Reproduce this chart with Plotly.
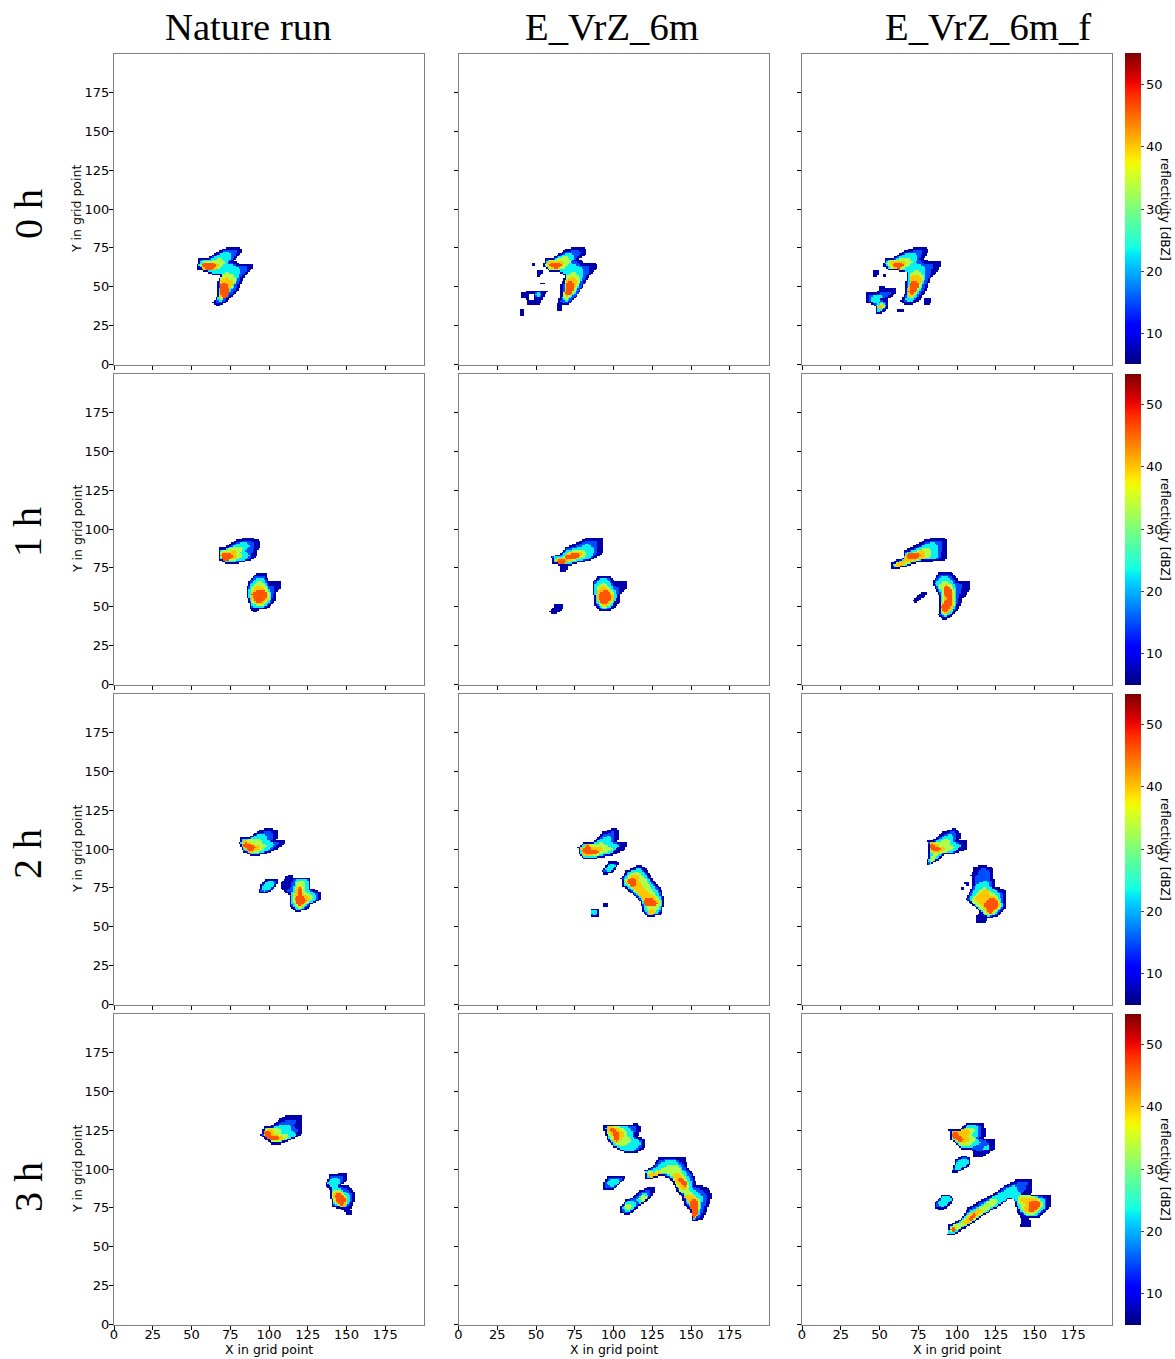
import numpy as np
import plotly.graph_objects as go

# Values are reflectivity contours: (dBZ level, [x, y, x, y, ...] in grid points).
# A later entry paints over an earlier one; level 0 is a gap with no echo.
column_titles = ["Nature run", "E_VrZ_6m", "E_VrZ_6m_f"]
row_titles = ["0 h", "1 h", "2 h", "3 h"]
grid_ticks = [0, 25, 50, 75, 100, 125, 150, 175]
colorbar_ticks = [10, 20, 30, 40, 50]

nature_0h = [
 (7,[53,64,54,68,61,69,65,72,69,74,75,76,81,75,82,73,80,70,77,67,80,65,89,65,89,62,84,57,80,49,75,43,70,39,65,37,63,40,66,45,66,53,68,58,63,58,57,60,53,61]),
 (15,[54,64,55,67,61,68,65,70,70,73,76,74,79,73,77,69,74,66,78,64,85,63,85,61,81,56,78,49,73,43,69,40,65,39,65,41,67,45,67,53,69,59,63,59,57,61]),
 (23,[55,64,56,66,62,67,66,69,71,72,74,71,73,67,70,65,76,63,80,61,78,55,74,48,70,43,67,41,67,45,69,53,70,58,63,60,57,62]),
 (33,[56,64,58,66,63,66,68,68,70,66,68,63,62,61,57,62]),
 (33,[69,57,72,59,76,57,77,54,73,48,70,43,67,42,68,46,69,52]),
 (40,[57,64,59,65,63,65,66,65,65,62,60,61,57,62]),
 (40,[69,54,72,56,75,53,73,48,70,44,68,43,69,47]),
 (46,[57,64,60,65,64,64,63,62,59,62]),
 (46,[69,51,71,52,73,48,71,43,69,45]),
]
vrz_0h = [
 (7,[54,65,55,68,61,69,68,74,76,76,81,75,82,71,77,68,80,66,88,65,89,62,84,57,80,51,76,45,71,39,66,38,66,35,63,35,63,39,65,45,65,51,68,57,65,59,58,60,54,63]),
 (15,[55,65,56,67,61,68,68,72,75,74,79,72,74,67,78,64,84,63,84,60,80,54,77,47,72,41,67,39,65,41,67,46,67,51,69,58,65,60,58,61,55,63]),
 (23,[56,64,57,67,62,67,68,70,73,71,72,67,70,65,75,63,79,61,78,55,73,45,68,41,67,43,69,50,69,58,64,61,58,62]),
 (33,[56,64,58,66,63,67,68,69,71,67,68,63,62,61,58,62]),
 (33,[69,56,73,59,77,56,76,52,72,45,68,42,68,46,69,52]),
 (40,[57,65,59,66,63,66,67,66,65,63,60,62]),
 (40,[70,54,73,56,75,53,72,47,69,44,69,48]),
 (46,[59,64,63,65,65,64,62,62]),
 (46,[70,52,72,53,73,49,71,45,69,46]),
 (7,[47,66,49,66,49,64,47,64]),
 (7,[50,60,53,61,54,59,52,57,50,57]),
 (7,[52,52,55,53,54,51]),
 (7,[40,46,45,48,57,48,55,45,52,39,44,39,43,42,40,43]),
 (0,[45,46,48,46,48,42,45,42]),
 (15,[49,46,53,47,53,44,49,43]),
 (23,[50,45,52,46,51,44]),
 (7,[39,36,42,36,42,32,39,32]),
]
vrzf_0h = [
 (7,[52,65,53,68,59,69,65,73,73,76,79,76,81,73,78,68,81,67,89,66,88,62,82,55,79,47,75,41,69,38,65,39,63,41,66,47,66,53,67,60,62,60,55,61,52,63]),
 (15,[53,65,54,67,59,68,65,71,73,74,77,73,75,68,78,65,84,64,82,58,78,49,74,43,69,40,65,41,67,47,67,53,68,60,62,61,55,62]),
 (23,[54,65,55,67,60,67,66,70,72,71,73,68,71,65,78,62,78,57,75,49,71,42,67,42,68,49,69,58,62,62,56,62]),
 (33,[55,65,57,67,62,67,67,68,70,66,66,63,62,61,57,62]),
 (33,[70,58,74,60,77,56,75,50,71,44,68,43,69,50]),
 (40,[57,65,59,66,64,66,66,65,63,62,59,62]),
 (40,[70,56,73,57,76,55,73,49,70,44,68,45,69,50]),
 (46,[59,64,62,65,64,64,62,62]),
 (46,[70,52,73,53,74,52,72,47,70,45,69,47]),
 (7,[45,60,48,61,49,58,47,56,45,57]),
 (7,[52,59,54,59,54,57,52,57]),
 (7,[78,42,82,43,83,40,80,38,78,39]),
 (7,[61,36,65,36,65,34,61,34]),
 (7,[41,46,48,47,49,50,52,51,53,49,60,50,59,45,55,42,55,36,51,33,47,33,46,38,41,40]),
 (15,[43,45,48,45,52,47,57,47,55,44,50,42,54,40,54,37,50,34,48,34,47,38,43,41]),
 (23,[44,44,48,44,52,44,49,41,45,41]),
 (23,[48,38,51,40,53,38,50,35,48,35]),
 (33,[49,37,51,39,52,37,50,36]),
 (40,[49,37,51,38,51,37,50,36]),
]
nature_1h = [
 (7,[67,88,72,89,78,93,86,95,93,93,94,89,92,86,92,83,88,80,80,78,71,78,67,80]),
 (15,[68,87,72,87,78,91,85,93,90,91,90,88,88,84,87,81,80,79,71,79,68,81]),
 (23,[69,86,73,87,78,89,84,91,86,89,82,86,86,83,84,81,78,80,71,80,68,82]),
 (33,[69,85,73,86,78,88,82,87,79,85,82,83,78,81,72,80,69,82]),
 (40,[70,84,75,85,79,86,77,84,78,82,74,81,70,81]),
 (46,[69,83,72,84,75,83,74,81,70,81]),
 (7,[86,66,91,72,97,72,99,66,107,67,107,63,104,59,103,53,98,49,93,48,90,46,87,49,85,56,85,63]),
 (15,[87,66,91,70,96,70,99,64,103,63,102,58,100,52,97,50,92,49,88,50,86,56,86,63]),
 (23,[88,64,91,68,95,68,98,62,100,57,98,52,93,50,89,51,87,56,87,61]),
 (33,[89,62,92,66,95,65,98,60,99,55,96,52,92,51,89,53,88,57]),
 (40,[89,59,91,63,94,63,96,60,98,58,97,54,94,52,91,53,89,55]),
 (46,[89,58,92,60,94,59,96,60,97,56,94,53,91,54,90,56]),
]
vrz_1h = [
 (7,[59,82,65,84,68,88,75,91,83,95,92,95,93,91,92,84,85,80,76,78,70,76,69,73,65,73,64,77,60,78]),
 (15,[60,82,65,83,69,87,75,89,83,93,89,92,89,86,85,81,76,79,70,77,64,78,61,79]),
 (23,[61,82,66,82,69,85,76,87,83,90,86,87,84,82,76,80,70,78,64,79,61,80]),
 (33,[62,81,67,81,70,84,76,86,81,86,81,83,75,81,69,79,63,79]),
 (40,[62,81,67,80,69,83,75,85,79,84,76,82,70,80,68,79,63,79]),
 (46,[63,80,66,80,68,79,64,79]),
 (46,[69,82,75,84,77,83,72,81]),
 (7,[86,66,90,70,97,70,100,66,108,67,108,62,104,58,103,52,98,48,90,47,87,51,86,58]),
 (15,[87,66,91,69,96,69,99,64,103,62,101,55,97,49,91,48,88,52,87,58]),
 (23,[88,64,91,68,95,67,98,62,101,57,98,51,92,49,89,53,88,58]),
 (33,[90,63,93,65,96,62,99,58,97,52,92,50,90,54,89,58]),
 (40,[90,60,93,63,96,60,99,56,96,52,92,51,90,54]),
 (46,[91,58,95,60,97,56,95,53,92,52,91,55]),
 (7,[58,47,61,51,67,52,67,49,63,46,59,45]),
]
vrzf_1h = [
 (7,[57,78,60,80,64,81,65,86,71,89,78,93,85,95,92,94,93,89,92,80,84,79,76,79,67,76,59,74,57,75]),
 (15,[58,77,64,80,66,85,72,87,79,91,85,93,90,92,89,85,88,81,76,80,67,77,59,75]),
 (23,[59,77,64,79,67,84,73,86,79,89,84,91,86,88,86,82,76,81,67,78,60,75]),
 (33,[60,77,65,78,68,83,74,85,79,87,82,86,82,83,75,81,66,78,60,76]),
 (40,[61,77,64,78,67,83,73,84,77,86,78,82,73,81,66,79,61,76]),
 (46,[67,84,72,83,75,84,74,82,68,81]),
 (7,[84,67,87,72,95,73,100,67,108,67,108,62,103,55,100,48,96,44,91,41,87,45,88,53,87,58,84,64]),
 (15,[85,67,88,70,94,71,98,66,103,64,100,55,98,48,95,45,91,43,88,45,89,53,88,58,85,64]),
 (23,[86,65,89,69,93,69,96,65,98,60,98,53,95,46,91,44,89,47,90,53,89,60]),
 (33,[88,63,91,66,94,65,97,60,97,52,94,47,91,45,89,49,91,55,91,60]),
 (40,[91,64,94,62,96,58,96,52,94,47,91,46,90,49,92,55,92,60]),
 (46,[92,63,94,62,95,56,95,52,93,48,91,47,90,50,92,53,94,55,92,58]),
 (7,[71,54,76,59,79,60,80,58,76,55,74,53,72,53]),
]
nature_2h = [
 (7,[80,104,81,107,87,108,93,112,99,114,105,112,104,106,110,106,109,103,101,98,94,96,88,95,83,98]),
 (15,[81,104,82,106,87,107,93,110,99,112,102,110,101,105,106,104,100,99,94,97,88,96,83,99]),
 (23,[81,104,83,106,88,106,94,109,97,109,97,105,102,103,99,100,93,98,88,97,84,100]),
 (33,[82,105,86,105,91,106,94,106,93,103,97,102,93,99,88,98,85,100]),
 (40,[82,105,85,104,90,102,93,101,90,99,87,98,84,101]),
 (46,[83,105,85,103,90,101,87,99,84,102]),
 (7,[93,74,94,77,97,80,101,81,104,81,105,79,103,75,99,72,95,71,93,72]),
 (15,[94,74,95,77,98,79,101,80,103,80,104,79,102,75,99,73,95,72,94,73]),
 (23,[95,75,97,77,101,79,102,78,100,75,97,74,96,74]),
 (7,[107,78,110,82,114,84,115,82,125,82,126,75,133,72,132,67,126,64,124,61,116,59,113,63,113,70,110,72,107,75]),
 (15,[113,75,115,81,124,81,125,74,131,71,130,67,125,65,123,62,117,60,114,64,114,72,111,73]),
 (23,[115,72,117,80,123,80,124,73,129,70,128,67,124,65,122,63,117,61,115,65]),
 (33,[116,71,118,79,122,78,122,72,127,69,124,66,121,63,118,62,116,66]),
 (40,[116,70,118,76,120,76,120,71,125,68,122,65,119,63,117,66]),
 (46,[117,68,119,71,119,75,120,70,123,67,120,65,118,65]),
]
vrz_2h = [
 (7,[76,101,81,105,87,105,92,111,101,114,103,112,102,105,108,104,106,99,99,96,89,94,81,93,77,97]),
 (15,[77,101,81,104,87,104,93,109,100,112,100,105,104,103,98,97,89,95,81,94,78,97]),
 (23,[78,100,81,103,86,103,93,106,97,108,96,104,102,102,97,98,89,96,81,95,79,97]),
 (33,[79,100,83,103,87,102,93,104,93,102,98,100,90,97,82,96,80,97]),
 (40,[79,100,83,103,85,101,92,100,89,98,82,96,80,97]),
 (46,[80,99,83,102,84,99,89,98,82,97]),
 (7,[92,86,96,92,101,93,103,91,99,85,93,83]),
 (15,[93,86,96,90,100,91,101,90,98,86,94,85]),
 (23,[95,87,97,89,100,90,98,87,96,86]),
 (7,[104,81,107,86,116,90,120,88,125,80,130,74,132,66,130,58,122,56,118,60,116,67,110,72,105,76]),
 (15,[105,81,108,85,116,88,119,86,123,80,129,73,131,66,129,59,122,57,119,60,117,67,111,73,106,77]),
 (23,[106,80,109,84,115,87,118,85,122,79,127,72,130,66,128,60,122,58,120,61,118,68,112,74,107,77]),
 (33,[107,79,110,83,115,85,117,83,120,79,125,71,129,66,127,61,123,59,121,63,118,69,112,75]),
 (40,[108,79,111,82,114,83,115,79,118,74,123,70,128,66,124,63,120,66,116,71,112,76]),
 (40,[123,61,125,61,125,59,123,59]),
 (46,[109,79,112,81,113,78,112,76]),
 (46,[119,68,123,68,127,65,123,64,120,65]),
 (7,[84,62,90,62,90,57,85,56]),
 (15,[85,61,89,61,89,58,85,57]),
 (23,[86,60,88,61,88,59,86,58]),
 (7,[93,65,94,66,96,65,96,63,94,62,93,63]),
]
vrzf_2h = [
 (7,[80,105,84,106,90,111,98,114,102,110,101,106,106,105,106,100,98,97,91,96,86,92,79,89,81,98]),
 (15,[81,104,85,105,91,109,97,112,99,109,98,105,103,103,98,98,91,97,85,93,80,89,82,98]),
 (23,[82,104,86,104,91,107,96,109,95,105,101,102,97,99,90,98,85,94,81,90,83,98]),
 (33,[82,104,86,103,91,105,94,106,93,103,97,101,93,99,87,97,84,94,82,91,85,97,83,99]),
 (40,[82,104,85,103,88,101,91,100,87,98,84,99,82,101]),
 (46,[83,103,85,101,88,100,85,99,83,101]),
 (7,[108,83,110,88,116,90,122,88,123,81,124,76,130,74,131,63,126,57,119,55,117,52,112,53,112,57,114,60,109,64,105,68,109,77,109,80]),
 (15,[111,82,115,88,120,86,121,80,122,75,128,72,129,63,125,58,119,56,115,61,110,65,106,68,110,76]),
 (23,[112,76,118,79,120,75,125,72,128,63,124,59,118,57,113,62,108,67,111,73]),
 (33,[110,68,114,72,117,75,119,73,123,71,127,64,124,60,119,58,114,63,110,66]),
 (40,[112,68,116,72,118,74,120,68,123,69,126,64,123,60,120,59,117,62,114,66]),
 (46,[118,65,121,68,124,67,125,63,122,60,120,60,118,63]),
 (7,[104,78,107,79,107,77,105,76]),
 (7,[102,76,104,76,104,74,102,74]),
]
nature_3h = [
 (7,[94,122,96,128,101,128,106,132,112,135,121,134,121,129,120,122,114,119,107,116,101,116,97,119]),
 (15,[95,122,97,127,102,127,107,130,113,132,117,131,115,128,118,125,116,121,108,118,102,117,98,120]),
 (23,[96,123,97,126,103,126,108,128,112,128,113,125,116,122,108,119,102,118,98,120]),
 (33,[96,123,98,126,104,126,107,124,105,122,112,121,107,119,101,118,98,120]),
 (40,[96,123,99,125,102,124,101,122,108,120,103,119,99,120]),
 (46,[97,123,100,124,100,121,105,120,101,119,98,121]),
 (7,[136,91,138,96,149,98,150,93,146,90,151,89,155,84,154,78,152,74,153,71,149,71,148,73,140,76,139,81,139,86,136,89]),
 (15,[137,91,139,95,147,96,147,92,144,89,150,87,153,83,152,78,148,75,141,77,140,81,140,87,138,90]),
 (23,[138,91,140,93,144,94,143,90,142,88,147,85,151,83,150,78,147,76,142,78,140,82,141,87]),
 (33,[141,86,146,85,149,81,149,78,146,76,142,79,141,82]),
 (40,[142,85,145,85,149,81,147,76,143,79,142,82]),
 (46,[143,84,146,83,148,80,146,77,144,79,143,82]),
]
vrz_3h = [
 (7,[93,125,93,128,101,129,110,128,114,130,117,126,115,121,120,119,120,114,115,111,106,111,99,114,95,119]),
 (15,[94,126,95,128,101,128,110,127,113,128,114,125,112,121,118,118,118,115,114,112,106,112,99,115,96,120]),
 (23,[94,126,95,127,101,127,109,126,111,124,110,121,116,117,113,113,106,113,100,116,97,120]),
 (33,[95,127,101,127,106,125,107,122,110,118,105,115,101,117,98,120,96,123]),
 (40,[96,127,99,126,103,125,105,122,103,118,100,118,99,122,96,125]),
 (46,[97,126,100,125,102,122,102,119,101,118,100,122,98,125]),
 (7,[93,91,95,95,103,96,107,95,104,91,98,86,93,87]),
 (15,[94,91,96,94,102,95,105,94,103,91,98,87,94,88]),
 (23,[96,91,98,93,102,93,103,92,100,90,97,89]),
 (7,[104,72,104,76,107,80,112,82,116,86,123,89,126,89,125,84,121,79,115,76,112,72,107,70]),
 (15,[105,73,105,76,108,79,112,81,117,85,123,87,123,84,120,80,115,77,111,73,107,71]),
 (23,[106,75,108,78,112,79,113,76,110,74,107,73]),
 (23,[115,80,118,83,121,84,120,80,118,79,116,78]),
 (33,[107,76,109,77,111,76,108,74]),
 (33,[117,81,119,83,120,81,118,79]),
 (7,[119,99,124,101,128,107,133,108,140,108,145,108,147,101,151,96,153,90,160,88,163,83,160,75,157,68,150,66,149,72,145,77,143,83,140,86,136,93,131,96,125,94,120,93]),
 (15,[120,98,124,100,129,105,134,107,140,106,144,104,146,100,150,95,151,89,157,86,160,82,157,74,155,69,151,67,150,73,146,78,144,84,141,87,137,94,131,97,125,95,121,95]),
 (23,[120,98,125,99,130,103,135,105,140,104,143,100,148,93,149,87,153,85,156,82,154,74,153,70,151,68,151,74,147,79,145,85,142,88,138,95,131,98,125,96,121,96]),
 (33,[122,97,127,98,132,100,136,102,140,102,143,97,146,92,147,87,150,84,154,80,153,73,152,70,151,72,149,79,147,84,143,86,140,90,138,96,131,99,125,97]),
 (40,[123,96,128,97,132,98,130,97,125,95]),
 (40,[138,97,142,96,145,91,146,88,143,88,140,92]),
 (40,[146,82,150,83,153,79,153,70,150,69,150,76]),
 (46,[150,80,152,80,153,72,151,69,150,72]),
 (46,[143,94,146,90,145,89,142,93]),
]
vrzf_3h = [
 (7,[94,125,102,126,106,130,116,130,118,124,117,120,124,119,124,113,116,108,110,108,109,112,102,113,95,119]),
 (15,[95,125,102,125,107,129,114,128,115,124,114,120,119,117,120,114,115,111,109,113,102,114,96,119]),
 (23,[95,125,102,124,107,128,112,127,112,123,111,120,114,117,108,114,102,115,97,119]),
 (23,[117,113,120,115,120,113,118,112]),
 (33,[96,124,102,124,107,126,110,125,108,122,111,119,106,115,102,116,97,120]),
 (40,[96,124,101,123,105,125,107,124,105,121,107,119,103,117,99,120]),
 (46,[96,123,100,122,103,119,100,119,97,121]),
 (7,[96,99,98,106,104,109,108,107,107,102,100,98,96,98]),
 (15,[97,100,99,105,104,108,107,106,106,103,100,99]),
 (23,[98,101,100,104,104,106,106,105,104,102,100,100]),
 (7,[85,78,89,83,94,84,97,81,94,76,89,73,85,75]),
 (15,[86,78,89,82,94,83,96,81,93,77,89,75,86,76]),
 (23,[88,78,90,81,94,82,95,80,92,77,89,76]),
 (7,[93,58,94,64,102,68,106,75,113,79,121,83,130,89,137,93,147,94,148,86,147,84,154,84,160,83,159,75,153,69,146,68,147,63,139,62,141,67,138,72,136,80,133,81,126,76,116,70,109,65,103,61,98,58]),
 (15,[94,59,95,63,102,67,107,74,114,78,122,82,130,88,138,91,145,92,143,86,141,84,146,83,153,83,157,81,157,75,152,70,145,69,140,72,137,79,133,82,126,77,116,71,109,66,102,62,98,59]),
 (23,[94,60,96,63,102,66,108,72,115,76,122,81,131,86,136,89,137,87,140,84,144,84,149,82,155,80,155,75,151,71,145,70,140,74,138,80,133,83,126,78,116,72,109,67,103,63,98,60]),
 (33,[95,61,97,63,102,65,107,70,115,75,119,78,123,80,125,79,117,73,110,68,103,64,98,61]),
 (33,[140,82,145,83,150,81,154,78,153,75,150,72,145,71,142,74,140,78]),
 (40,[96,62,99,62,97,61]),
 (40,[104,66,108,70,113,74,115,73,110,69,105,65]),
 (40,[141,80,145,81,150,81,153,78,151,74,146,72,143,74,145,78,142,79]),
 (46,[106,67,110,70,112,71,109,68]),
 (46,[146,79,151,79,152,76,149,74,146,74,147,77]),
 (46,[96,61,98,62,98,61]),
]

panels = [
    [nature_0h, vrz_0h, vrzf_0h],
    [nature_1h, vrz_1h, vrzf_1h],
    [nature_2h, vrz_2h, vrzf_2h],
    [nature_3h, vrz_3h, vrzf_3h],
]

W, H = 1175, 1359
col_px = [(114, 424), (458.5, 768.5), (802, 1112)]
row_px = [(53.5, 364.5), (373.5, 684.5), (693.5, 1004.5), (1013.5, 1324.5)]
title_x = [248, 612, 988]
row_title_y = [214, 532, 854, 1187]
cbar_left = 1125


def fx(px):
    return px / W


def fy(px):
    return 1 - px / H


def inside(poly, xx, yy):
    xs = np.array(poly[0::2], float)
    ys = np.array(poly[1::2], float)
    mask = np.zeros(xx.shape, bool)
    for i in range(len(xs)):
        x1, y1, x2, y2 = xs[i], ys[i], xs[i - 1], ys[i - 1]
        if y1 == y2:
            continue
        crosses = (y1 > yy) != (y2 > yy)
        xcross = (x2 - x1) * (yy - y1) / (y2 - y1) + x1
        mask ^= crosses & (xx < xcross)
    return mask


axis = np.arange(200)
cell_x = axis + 1  # the outlines were read about one grid point left of the drawn cells
xx, yy = np.meshgrid(axis, axis)


def field(contours):
    z = np.full(xx.shape, np.nan)
    for level, poly in contours:
        z[inside(poly, xx, yy)] = level if level else np.nan
    # inner levels reach one cell further out; the dark outer rim stays as read
    filled = np.nan_to_num(z)
    grown = filled.copy()
    grown[1:, :] = np.maximum(grown[1:, :], filled[:-1, :])
    grown[:-1, :] = np.maximum(grown[:-1, :], filled[1:, :])
    grown[:, 1:] = np.maximum(grown[:, 1:], filled[:, :-1])
    grown[:, :-1] = np.maximum(grown[:, :-1], filled[:, 1:])
    keep = filled < 15
    grown[keep] = filled[keep]
    grown[np.isnan(z)] = np.nan
    return grown


def jet():
    r = ([0, .35, .66, .89, 1], [0, 0, 1, 1, .5])
    g = ([0, .125, .375, .64, .91, 1], [0, 0, 1, 1, 0, 0])
    b = ([0, .11, .34, .65, 1], [.5, 1, 1, 0, 0])
    out = []
    for t in np.linspace(0, 1, 41):
        c = [int(round(255 * np.interp(t, *ch))) for ch in (r, g, b)]
        out.append([float(t), f"rgb({c[0]},{c[1]},{c[2]})"])
    return out


fig = go.Figure()
scale = jet()
FONT = "DejaVu Sans"
annotations = []


def note(text, x, y, size, family=FONT, angle=0):
    annotations.append(dict(text=text, x=fx(x), y=fy(y), xref="paper", yref="paper",
                            showarrow=False, xanchor="center", yanchor="middle", textangle=angle,
                            font=dict(family=family, size=size, color="black")))


for r, row in enumerate(panels):
    for c, contours in enumerate(row):
        n = r * 3 + c + 1
        suffix = "" if n == 1 else str(n)
        show_cb = c == 2
        trace = go.Heatmap(
            x=cell_x, y=axis, z=field(contours), zmin=5, zmax=55,
            colorscale=scale, showscale=show_cb, hoverongaps=False,
            xaxis="x" + suffix, yaxis="y" + suffix,
        )
        if show_cb:
            trace.colorbar = dict(
                x=fx(cbar_left), xanchor="left", xpad=0, ypad=0,
                thickness=16, thicknessmode="pixels",
                y=fy(sum(row_px[r]) / 2), yanchor="middle",
                len=row_px[r][1] - row_px[r][0], lenmode="pixels",
                tickvals=colorbar_ticks, ticks="outside", ticklen=3, tickwidth=1,
                tickfont=dict(family=FONT, size=13, color="black"),
                outlinewidth=0,
            )
        fig.add_trace(trace)
        common = dict(
            range=[0, 200], tickvals=grid_ticks, ticks="outside", ticklen=4, tickwidth=1,
            tickcolor="black", showgrid=False, zeroline=False, showline=True, mirror=True,
            linecolor="#808080", linewidth=1, automargin=False,
            tickfont=dict(family=FONT, size=13, color="black"),
        )
        fig.layout["xaxis" + suffix] = go.layout.XAxis(
            domain=[fx(col_px[c][0]), fx(col_px[c][1])], anchor="y" + suffix,
            showticklabels=r == 3, ticklabelstandoff=-6, **common,
        )
        fig.layout["yaxis" + suffix] = go.layout.YAxis(
            domain=[fy(row_px[r][1]), fy(row_px[r][0])], anchor="x" + suffix,
            showticklabels=c == 0, ticklabelstandoff=-3, **common,
        )
        if r == 3:
            note("X in grid point", sum(col_px[c]) / 2, 1349, 12.5)
        if c == 0:
            note("Y in grid point", 77, sum(row_px[r]) / 2, 12.5, angle=-90)

for c, text in enumerate(column_titles):
    note(text, title_x[c], 27, 38.7, family="Liberation Serif")
for r, text in enumerate(row_titles):
    note(text, 28, row_title_y[r], 40, family="Liberation Serif", angle=-90)
    note("reflectivity [dBZ]", 1165, sum(row_px[r]) / 2, 12.2, angle=90)

fig.update_layout(
    width=W, height=H, autosize=False, margin=dict(l=0, r=0, t=0, b=0),
    paper_bgcolor="white", plot_bgcolor="white", showlegend=False,
    annotations=annotations,
)

fig.write_html("out.html", post_script="document.body.style.margin='0';",
               config={"displayModeBar": False})
